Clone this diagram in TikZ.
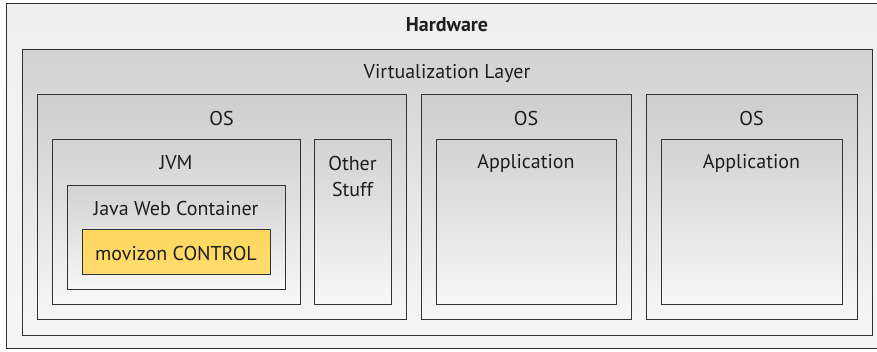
\documentclass[tikz,border=0pt]{standalone}
\usepackage{fontspec}
\setmainfont{PT Sans}

\definecolor{boxline}{HTML}{333333}
\definecolor{boxtext}{HTML}{1E1E1E}
\definecolor{hwfill}{HTML}{EFEFEF}
\definecolor{greytop}{HTML}{D2D2D2}
\definecolor{greybot}{HTML}{F7F7F7}
\definecolor{movizontop}{HTML}{FFD75F}
\definecolor{movizonbot}{HTML}{FFDC6E}

\tikzset{
  layer/.style={draw=boxline, line width=1.1pt, anchor=north west, inner sep=0pt,
                top color=greytop, bottom color=greybot},
  caption/.style={font=\fontsize{20}{26}\selectfont, text=boxtext, align=center}
}

\begin{document}
\begin{tikzpicture}[x=1pt,y=-1pt]

        \useasboundingbox (0,0) rectangle (877,351);

        \begin{scope}[every node/.style={layer}]
          \node[top color=hwfill, bottom color=hwfill!60!white,
                minimum width=880pt, minimum height=345pt] (hw) at (6,3) {};
          \node[top color=hwfill!88!black, minimum width=850pt, minimum height=286pt] (virt) at (22,49) {};
          \node[top color=hwfill!86!black, minimum width=369pt, minimum height=225pt] (os1) at (37,94) {};
          \node[top color=hwfill!86!black, minimum width=210pt, minimum height=225pt] (os2) at (421,94) {};
          \node[top color=hwfill!86!black, minimum width=211pt, minimum height=225pt] (os3) at (646,94) {};
          \node[minimum width=248pt, minimum height=165pt] (jvm)   at (52,139)  {};
          \node[minimum width=77pt,  minimum height=165pt] (other) at (314,139) {};
          \node[minimum width=180pt, minimum height=165pt] (app2)  at (436,139) {};
          \node[minimum width=181pt, minimum height=165pt] (app3)  at (661,139) {};
          \node[minimum width=218pt, minimum height=104pt] (jwc)   at (67,185)  {};
          \node[top color=movizontop, bottom color=movizonbot,
                minimum width=188pt, minimum height=45pt] (movizon) at (82,229) {};
        \end{scope}

        \begin{scope}[every node/.style={caption}]
          \node[font=\fontsize{20}{26}\selectfont\bfseries] (hwlbl) at (447,25) {Hardware};
          \node (virtlbl)    at (447,73)   {Virtualization Layer};
          \node (os1lbl)     at (221.5,118) {OS};
          \node (os2lbl)     at (526,118)  {OS};
          \node (os3lbl)     at (751.5,118) {OS};
          \node (jvmlbl)     at (176,163)  {JVM};
          \node (otherlbl)   at (352.5,176) {Other\\Stuff};
          \node (app2lbl)    at (526,163)  {Application};
          \node (app3lbl)    at (751.5,163) {Application};
          \node (jwclbl)     at (176,208)  {Java Web Container};
          \node (movizonlbl) at (176,253)  {movizon CONTROL};
        \end{scope}

      \end{tikzpicture}
\end{document}
